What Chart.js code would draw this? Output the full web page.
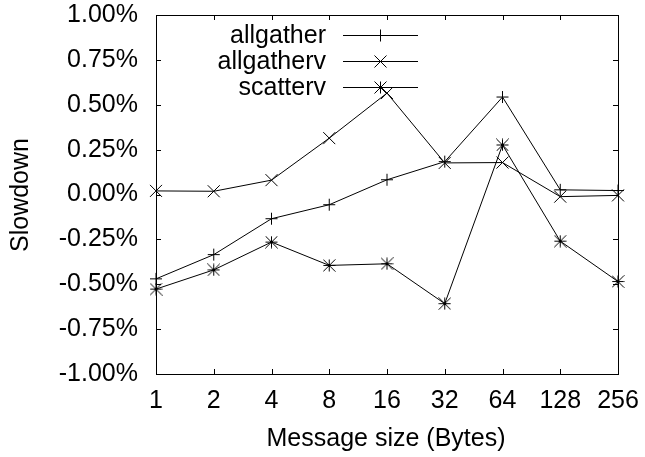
<!DOCTYPE html>
<html>
<head>
<meta charset="utf-8">
<script src="https://cdn.jsdelivr.net/npm/chart.js@4/dist/chart.umd.min.js"></script>
<style>
  html, body { margin: 0; padding: 0; background: #fff; }
  #wrap { width: 645px; height: 457px; }
</style>
</head>
<body>
<div id="wrap"><canvas id="c" width="645" height="457"></canvas></div>
<script>
// Message sizes (bytes) on the x axis
const sizes = ['1', '2', '4', '8', '16', '32', '64', '128', '256'];

// Slowdown per collective, in percent
const allgather  = [-0.47, -0.335, -0.135, -0.057, 0.082, 0.183, 0.543, 0.026, 0.022];
const allgatherv = [0.02, 0.018, 0.08, 0.314, 0.565, 0.176, 0.178, -0.012, -0.005];
const scatterv   = [-0.527, -0.42, -0.265, -0.395, -0.386, -0.608, 0.276, -0.26, -0.485];

// y axis range and step (percent)
const yMin = -1, yMax = 1, yStep = 0.25;

const FONT = '"Liberation Sans", Arial, Helvetica, sans-serif';
const FSIZE = 25;

// gnuplot-like asterisk marker: a plus and an x overlaid
function makeStar(half) {
  const n = half * 2 + 1;
  const cv = document.createElement('canvas');
  cv.width = n; cv.height = n;
  const g = cv.getContext('2d');
  g.strokeStyle = '#000';
  g.lineWidth = 1;
  const c = half + 0.5;
  g.beginPath();
  g.moveTo(0.5, c); g.lineTo(n - 0.5, c);
  g.moveTo(c, 0.5); g.lineTo(c, n - 0.5);
  g.moveTo(0.5, 0.5); g.lineTo(n - 0.5, n - 0.5);
  g.moveTo(n - 0.5, 0.5); g.lineTo(0.5, n - 0.5);
  g.stroke();
  return cv;
}
const starMarker = makeStar(6);

// Frame with inward ticks on all four sides
const framePlugin = {
  id: 'frame',
  afterDatasetsDraw(chart) {
    const { ctx, chartArea: a, scales } = chart;
    const L = 5;
    ctx.save();
    ctx.strokeStyle = '#000';
    ctx.lineWidth = 1;
    ctx.beginPath();
    scales.x.ticks.forEach((t, i) => {
      const px = Math.round(scales.x.getPixelForTick(i)) + 0.5;
      ctx.moveTo(px, a.bottom); ctx.lineTo(px, a.bottom - L);
      ctx.moveTo(px, a.top); ctx.lineTo(px, a.top + L);
    });
    scales.y.ticks.forEach((t, i) => {
      const py = Math.round(scales.y.getPixelForTick(i)) + 0.5;
      ctx.moveTo(a.left, py); ctx.lineTo(a.left + L, py);
      ctx.moveTo(a.right, py); ctx.lineTo(a.right - L, py);
    });
    ctx.stroke();
    ctx.strokeRect(Math.round(a.left) + 0.5, Math.round(a.top) + 0.5,
                   Math.round(a.right - a.left), Math.round(a.bottom - a.top));
    ctx.restore();
  }
};

// Legend in the upper part of the plot: label, then line sample with marker
const keyPlugin = {
  id: 'key',
  afterDatasetsDraw(chart) {
    const { ctx } = chart;
    ctx.save();
    ctx.font = FSIZE + 'px ' + FONT;
    ctx.textAlign = 'right';
    ctx.textBaseline = 'middle';
    ctx.fillStyle = '#000';
    chart.data.datasets.forEach((ds, i) => {
      const y = 35 + i * 26;
      ctx.fillText(ds.label, 326, y + 1);
      ctx.strokeStyle = '#000';
      ctx.lineWidth = 1;
      ctx.beginPath();
      ctx.moveTo(343, Math.round(y) + 0.5);
      ctx.lineTo(418, Math.round(y) + 0.5);
      ctx.stroke();
      Chart.helpers.drawPoint(ctx, {
        pointStyle: ds.pointStyle,
        radius: ds.pointRadius,
        rotation: 0,
        borderWidth: 1
      }, 380.5, Math.round(y) + 0.5);
    });
    ctx.restore();
  }
};

// Axis titles
const titlesPlugin = {
  id: 'titles',
  afterDraw(chart) {
    const { ctx } = chart;
    ctx.save();
    ctx.font = FSIZE + 'px ' + FONT;
    ctx.fillStyle = '#000';
    ctx.textAlign = 'center';
    ctx.textBaseline = 'middle';
    ctx.fillText('Message size (Bytes)', 386, 439);
    ctx.translate(21, 195);
    ctx.rotate(-Math.PI / 2);
    ctx.fillText('Slowdown', 0, 0);
    ctx.restore();
  }
};

const common = {
  borderColor: '#000',
  backgroundColor: '#000',
  borderWidth: 1,
  pointBorderWidth: 1,
  fill: false,
  tension: 0
};

new Chart(document.getElementById('c'), {
  type: 'line',
  data: {
    labels: sizes,
    datasets: [
      Object.assign({ label: 'allgather', data: allgather, pointStyle: 'cross', pointRadius: 6 }, common),
      Object.assign({ label: 'allgatherv', data: allgatherv, pointStyle: 'crossRot', pointRadius: 8.5 }, common),
      Object.assign({ label: 'scatterv', data: scatterv, pointStyle: starMarker, pointRadius: 6 }, common)
    ]
  },
  options: {
    responsive: false,
    animation: false,
    devicePixelRatio: 1,
    layout: { padding: { top: 15, right: 27, left: 0, bottom: 0 } },
    plugins: {
      legend: { display: false },
      tooltip: { enabled: false },
      title: { display: false }
    },
    scales: {
      x: {
        type: 'category',
        offset: false,
        grid: { display: false, drawTicks: false },
        border: { display: false },
        ticks: {
          color: '#000',
          font: { family: FONT, size: FSIZE },
          padding: 12,
          maxRotation: 0,
          autoSkip: false
        },
        afterFit(s) {
          s.height = 83;
          s.paddingLeft = 0;
          s.paddingRight = 0;
        }
      },
      y: {
        min: yMin,
        max: yMax,
        grid: { display: false, drawTicks: false },
        border: { display: false },
        ticks: {
          stepSize: yStep,
          color: '#000',
          font: { family: FONT, size: FSIZE },
          padding: 18,
          callback: v => v.toFixed(2) + '%'
        },
        afterFit(s) {
          s.width = 156;
          s.paddingTop = 0;
          s.paddingBottom = 0;
        }
      }
    }
  },
  plugins: [framePlugin, keyPlugin, titlesPlugin]
});
</script>
</body>
</html>
